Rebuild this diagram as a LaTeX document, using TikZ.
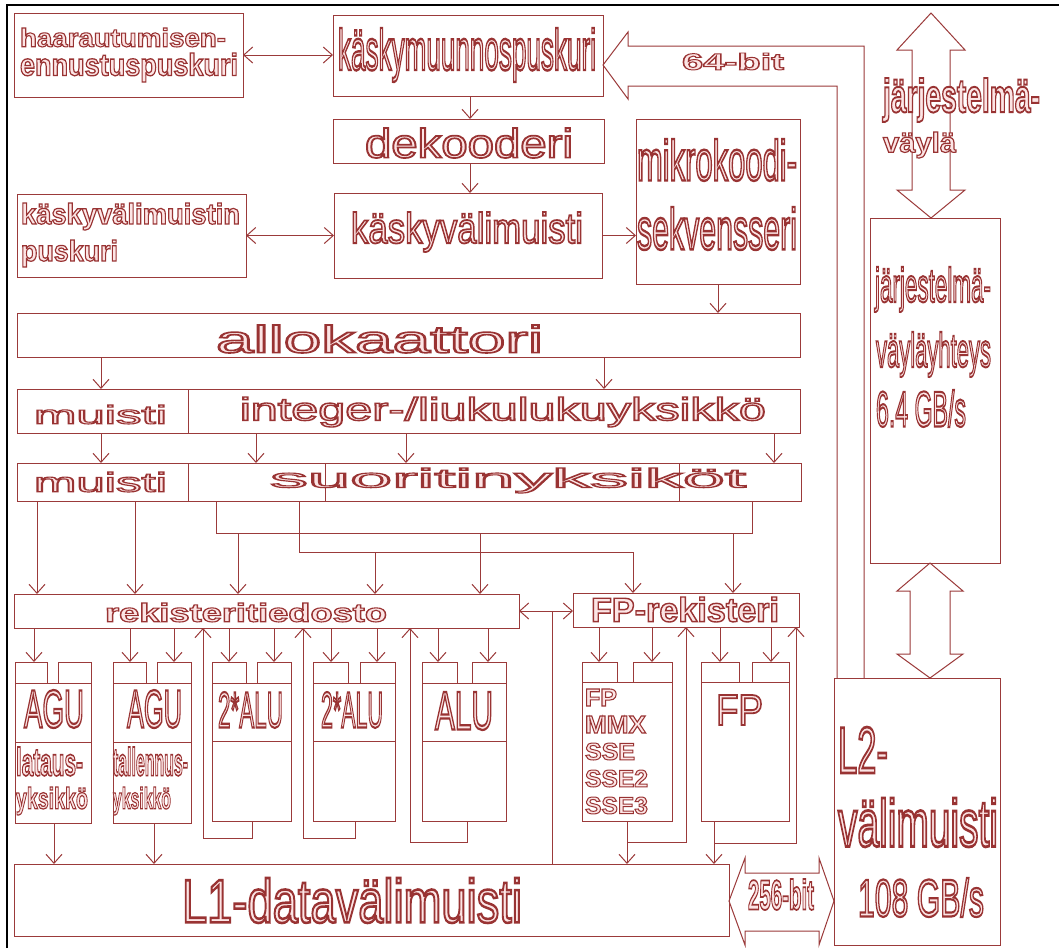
\documentclass[tikz,border=0pt]{standalone}
\usepackage{fontspec}
\setmainfont{Liberation Sans}
\usepackage{graphicx}
\usetikzlibrary{arrows.meta}
\definecolor{lc}{RGB}{155,58,58}
\newcommand\outl{\special{pdf:literal direct 2 Tr 1.25 w 0.99 0.9 0.9 rg 0.6 0.2 0.2 RG}}
\newcommand\fitt[3]{\resizebox*{#1pt}{#2pt}{\fontsize{30}{36}\selectfont\color{lc}\outl #3\special{pdf:literal direct 0 Tr}}}
\newcommand\bx[5]{\node[box,minimum width={(#4)-(#2)},minimum height={(#5)-(#3)}] (#1) at ({(#2+#4)/2},{(#3+#5)/2}) {};}
\newcommand\tx[6]{\node[txt] (#1) at (#2,#3) {\fitt{#4}{#5}{#6}};}
\tikzset{
  box/.style={draw=lc,line width=1pt,inner sep=0pt,outer sep=0pt,anchor=center},
  txt/.style={anchor=north west,inner sep=0pt,outer sep=0pt},
  ln/.style={draw=lc,line width=1pt},
  arr/.style={ln,-{Straight Barb[length=9pt,width=16pt,line width=1pt]}},
  arr2/.style={ln,{Straight Barb[length=9pt,width=16pt,line width=1pt]}-{Straight Barb[length=9pt,width=16pt,line width=1pt]}},
  bigarrow/.style={draw=lc,line width=1pt,line join=miter},
}
\begin{document}
\begin{tikzpicture}[x=1pt,y=-1pt]
\useasboundingbox (0,0) rectangle (1059,948);
\fill[white] (0,0) rectangle (1059,948);
\draw[black,line width=2.5pt] (7,948) -- (7,5) -- (1059,5);

% boxes
\bx{haar}{14}{13}{243}{97}
\bx{kmp}{333}{15}{603}{96}
\bx{dek}{333}{119}{604}{163}
\bx{kvmp}{17}{194}{246}{277}
\bx{kvm}{334}{193}{602}{278}
\bx{mik}{636}{119}{800}{284}
\bx{allo}{17}{313}{800}{357}
\bx{row2}{17}{389}{800}{433}
\bx{row3}{17}{463}{801}{501}
\bx{rek}{14}{594}{519}{628}
\bx{fpr}{573}{593}{799}{627}
\bx{jvy}{870}{218}{1000}{563}
\bx{L2}{834}{678}{1000}{945}
\bx{L1}{14}{864}{729}{936}
% units
\bx{a1}{15}{683}{91}{823}
\bx{a1l}{15}{662}{47}{683}
\bx{a1r}{58}{662}{91}{683}
\bx{a2}{113}{683}{191}{823}
\bx{a2l}{113}{662}{146}{683}
\bx{a2r}{157}{662}{191}{683}
\bx{b1}{212}{683}{291}{821}
\bx{b1l}{212}{662}{246}{683}
\bx{b1r}{257}{662}{291}{683}
\bx{b2}{313}{683}{395}{821}
\bx{b2l}{313}{662}{348}{683}
\bx{b2r}{360}{662}{395}{683}
\bx{c}{422}{683}{506}{821}
\bx{cl}{422}{662}{457}{683}
\bx{cr}{472}{662}{506}{683}
\bx{f1}{582}{682}{672}{821}
\bx{f1l}{582}{662}{617}{682}
\bx{f1r}{633}{662}{672}{682}
\bx{f2}{701}{682}{789}{821}
\bx{f2l}{701}{662}{739}{682}
\bx{f2r}{752}{662}{789}{682}

% dividers
\foreach \n in {row2,row3} \draw[ln] (188,0 |- \n.north) -- (188,0 |- \n.south);
\draw[ln] (325,0 |- row3.north) -- (325,0 |- row3.south);
\draw[ln] (679,0 |- row3.north) -- (679,0 |- row3.south);
\foreach \n in {a1,a2} \draw[ln] (\n.west |- 0,742) -- (\n.east |- 0,742);
\foreach \n in {b1,b2,c} \draw[ln] (\n.west |- 0,741) -- (\n.east |- 0,741);

% big hollow arrows
\draw[bigarrow] (864,0 |- L2.north) -- (864,46) -- (628,46) -- (628,32) -- (603,65) -- (628,99) -- (628,86) -- (837,86) -- (837,0 |- L2.north);
\draw[bigarrow] (931,13) -- (965,50) -- (950,50) -- (950,190) -- (965,190) -- (931,218) -- (897,190) -- (912,190) -- (912,50) -- (897,50) -- cycle;
\draw[bigarrow] (930,563) -- (963,591) -- (950,591) -- (950,654) -- (963,654) -- (930,678) -- (897,654) -- (910,654) -- (910,591) -- (897,591) -- cycle;
\draw[bigarrow] (729,901) -- (745,858) -- (745,873) -- (819,873) -- (819,858) -- (834,901) -- (819,945) -- (819,931) -- (745,931) -- (745,945) -- cycle;

% connectors
\draw[arr2] (haar.east) -- (haar.east -| kmp.west);
\draw[arr] (470,0 |- kmp.south) -- (470,0 |- dek.north);
\draw[arr] (470,0 |- dek.south) -- (470,0 |- kvm.north);
\draw[arr2] (kvmp.east) -- (kvmp.east -| kvm.west);
\draw[arr] (kvm.east) -- (kvm.east -| mik.west);
\draw[arr] (718,0 |- mik.south) -- (718,0 |- allo.north);
\foreach \x in {101,604} \draw[arr] (\x,0 |- allo.south) -- (\x,0 |- row2.north);
\foreach \x in {101,256,406,774} \draw[arr] (\x,0 |- row2.south) -- (\x,0 |- row3.north);
\foreach \x in {37,135} \draw[arr] (\x,0 |- row3.south) -- (\x,0 |- rek.north);
\draw[ln] (216,0 |- row3.south) |- (752,533) -- (752,0 |- row3.south);
\foreach \x in {238,480} \draw[arr] (\x,533) -- (\x,0 |- rek.north);
\draw[arr] (733,533) -- (733,0 |- fpr.north);
\draw[arr] (299,0 |- row3.south) |- (633,552) -- (633,0 |- fpr.north);
\draw[arr] (375,552) -- (375,0 |- rek.north);
\draw[arr2] (rek.east) -- (rek.east -| fpr.west);
\draw[ln] (552,0 |- rek.east) -- (552,0 |- L1.north);
\foreach \x/\n in {34/a1l,130/a2l,174/a2r,229/b1l,274/b1r,331/b2l,377/b2r,438/cl,488/cr}
  \draw[arr] (\x,0 |- rek.south) -- (\x,0 |- \n.north);
\foreach \x/\n in {599/f1l,652/f1r,720/f2l,771/f2r}
  \draw[arr] (\x,0 |- fpr.south) -- (\x,0 |- \n.north);
\draw[arr] (252,0 |- b1.south) |- (203,838) -- (203,0 |- rek.south);
\draw[arr] (355,0 |- b2.south) |- (303,838) -- (303,0 |- rek.south);
\draw[arr] (467,0 |- c.south) |- (410,842) -- (410,0 |- rek.south);
\draw[arr] (627,0 |- f1.south) -- (627,0 |- L1.north);
\draw[arr] (627,842) -| (686,0 |- fpr.south);
\draw[arr] (714,0 |- f2.south) -- (714,0 |- L1.north);
\draw[arr] (714,843) -| (796,0 |- fpr.south);
\draw[arr] (54,0 |- a1.south) -- (54,0 |- L1.north);
\draw[arr] (154,0 |- a2.south) -- (154,0 |- L1.north);

% texts
\tx{t1}{20}{28}{206}{19}{\bfseries haarautumisen-}
\tx{t2}{20}{53}{218}{29}{\bfseries ennustuspuskuri}
\tx{t3}{338}{28}{258}{54}{käskymuunnospuskuri}
\tx{t4}{365}{128}{208}{30}{dekooderi}
\tx{t5}{21}{203}{219}{27}{\bfseries käskyvälimuistin}
\tx{t6}{21}{240}{97}{27}{\bfseries puskuri}
\tx{t7}{351}{212}{232}{40}{käskyvälimuisti}
\tx{t8}{637}{139}{160}{42}{mikrokoodi-}
\tx{t9}{637}{207}{160}{43}{sekvensseri}
\tx{t10}{682}{53}{102}{17}{\bfseries 64-bit}
\tx{t11}{883}{78}{157}{44}{\bfseries järjestelmä-}
\tx{t12}{883}{132}{73}{26}{\bfseries väylä}
\tx{t13}{875}{267}{116}{45}{järjestelmä-}
\tx{t14}{876}{332}{115}{45}{väyläyhteys}
\tx{t15}{876}{390}{90}{37}{6.4 GB/s}
\tx{t16}{216}{325}{327}{28}{allokaattori}
\tx{t17}{34}{405}{133}{19}{muisti}
\tx{t18}{240}{397}{526}{30}{integer-/liukulukuyksikkö}
\tx{t19}{34}{472}{133}{20}{muisti}
\tx{t20}{270}{468}{476}{25}{suoritinyksiköt}
\tx{t21}{105}{603}{282}{19}{\bfseries rekisteritiedosto}
\tx{t22}{591}{597}{188}{25}{\bfseries FP-rekisteri}
\tx{t23}{24}{690}{60}{38}{AGU}
\tx{t24}{127}{690}{55}{38}{AGU}
\tx{t25}{16}{747}{67}{29}{\bfseries lataus-}
\tx{t26}{16}{787}{72}{28}{\bfseries yksikkö}
\tx{t27}{113}{747}{75}{29}{\bfseries tallennus-}
\tx{t28}{113}{787}{58}{28}{\bfseries yksikkö}
\tx{t29}{218}{692}{65}{36}{2*ALU}
\tx{t30}{321}{692}{62}{36}{2*ALU}
\tx{t31}{435}{692}{58}{38}{ALU}
\tx{t32}{585}{689}{32}{17}{\bfseries FP}
\tx{t33}{585}{716}{61}{17}{\bfseries MMX}
\tx{t34}{585}{743}{50}{17}{\bfseries SSE}
\tx{t35}{585}{770}{63}{17}{\bfseries SSE2}
\tx{t36}{585}{797}{63}{17}{\bfseries SSE3}
\tx{t37}{716}{695}{47}{30}{FP}
\tx{t38}{182}{878}{340}{45}{L1-datavälimuisti}
\tx{t39}{838}{727}{50}{46}{L2-}
\tx{t40}{838}{798}{160}{49}{välimuisti}
\tx{t41}{858}{878}{126}{39}{108 GB/s}
\tx{t42}{748}{879}{66}{31}{\bfseries 256-bit}
\end{tikzpicture}
\end{document}
